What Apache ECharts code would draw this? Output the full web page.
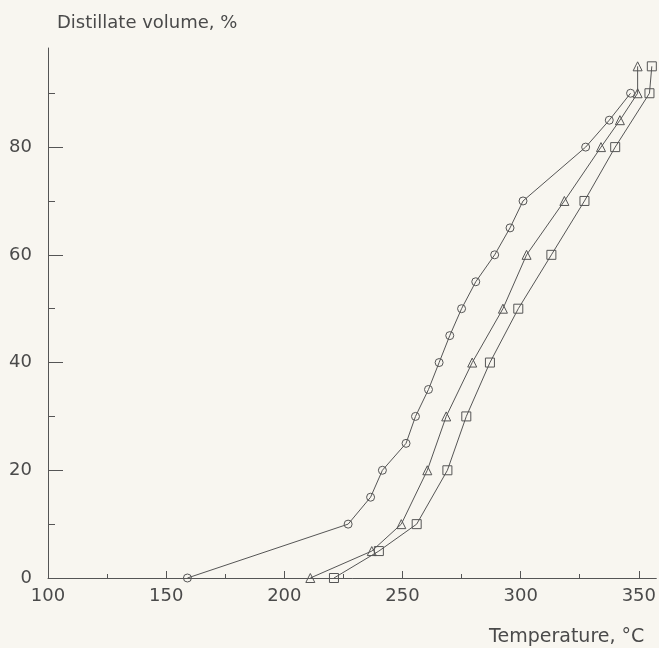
<!DOCTYPE html>
<html>
<head>
<meta charset="utf-8">
<script src="https://cdn.jsdelivr.net/npm/echarts@6/dist/echarts.min.js"></script>
<style>
  html, body { margin: 0; padding: 0; background: #f8f6f0; }
  #chart { width: 659px; height: 648px; }
</style>
</head>
<body>
<div id="chart"></div>
<script>
// distillation curves, temperature (°C) vs distillate volume (%)
const circleTemp = [159, 227, 236.5, 241.5, 251.5, 255.5, 261, 265.5, 270, 275, 281, 289, 295.5, 301, 327.5, 337.5, 346.5]
const circleVol = [0, 10, 15, 20, 25, 30, 35, 40, 45, 50, 55, 60, 65, 70, 80, 85, 90]
const triTemp = [211, 237, 249.5, 260.5, 268.5, 279.5, 292.5, 302.5, 318.5, 334, 342, 349.5, 349.5]
const triVol = [0, 5, 10, 20, 30, 40, 50, 60, 70, 80, 85, 90, 95]
const squareTemp = [221, 240, 256, 269, 277, 287, 299, 313, 327, 340, 354.5, 355.5]
const squareVol = [0, 5, 10, 20, 30, 40, 50, 60, 70, 80, 90, 95]

const xMajor = [100, 150, 200, 250, 300, 350]
const xMinor = [125, 175, 225, 275, 325]
const yMajor = [0, 20, 40, 60, 80]
const yMinor = [10, 30, 50, 70, 90]

const ink = '#555'
const textColor = '#4a4a4a'
const font = 'DejaVu Sans'

function pairs(xs, ys) {
  return xs.map((x, i) => [x, ys[i]])
}

function curve(symbol, size, xs, ys) {
  return {
    type: 'line',
    symbol: symbol,
    symbolSize: size,
    data: pairs(xs, ys),
    lineStyle: { color: ink, width: 1 },
    itemStyle: { color: 'rgba(0,0,0,0)', borderColor: ink, borderWidth: 1 },
    emphasis: { disabled: true },
    silent: true
  }
}

const chart = echarts.init(document.getElementById('chart'))
chart.setOption({
  backgroundColor: '#f8f6f0',
  animation: false,
  grid: { left: 48, right: 0, top: 48, bottom: 70 },
  xAxis: [
    {
      type: 'value',
      min: 100,
      max: 357.4,
      name: 'Temperature, °C',
      nameLocation: 'end',
      nameGap: -12,
      nameTextStyle: { color: textColor, fontFamily: font, fontSize: 19, align: 'right', verticalAlign: 'top', padding: [50, 0, 0, 0] },
      axisLine: { lineStyle: { color: ink, width: 1 } },
      axisTick: { inside: true, length: 7, lineStyle: { color: ink }, customValues: xMajor },
      axisLabel: { color: textColor, fontFamily: font, fontSize: 18, margin: 9, customValues: xMajor },
      splitLine: { show: false }
    },
    {
      type: 'value',
      min: 100,
      max: 357.4,
      position: 'bottom',
      axisLine: { show: false },
      axisTick: { inside: true, length: 4, lineStyle: { color: ink }, customValues: xMinor },
      axisLabel: { show: false },
      splitLine: { show: false }
    }
  ],
  yAxis: [
    {
      type: 'value',
      min: 0,
      max: 98.4,
      name: 'Distillate volume, %',
      nameLocation: 'end',
      nameGap: 25,
      nameTextStyle: { color: textColor, fontFamily: font, fontSize: 18, align: 'left', verticalAlign: 'middle', padding: [0, 0, 0, 9] },
      axisLine: { show: true, lineStyle: { color: ink, width: 1 } },
      axisTick: { show: true, inside: true, length: 15, lineStyle: { color: ink }, customValues: yMajor },
      axisLabel: { color: textColor, fontFamily: font, fontSize: 18, margin: 16, customValues: yMajor },
      splitLine: { show: false }
    },
    {
      type: 'value',
      min: 0,
      max: 98.4,
      position: 'left',
      axisLine: { show: false },
      axisTick: { show: true, inside: true, length: 7, lineStyle: { color: ink }, customValues: yMinor },
      axisLabel: { show: false },
      splitLine: { show: false }
    }
  ],
  series: [
    curve('circle', 8, circleTemp, circleVol),
    curve('triangle', 9, triTemp, triVol),
    curve('rect', 9, squareTemp, squareVol)
  ]
})
</script>
</body>
</html>
